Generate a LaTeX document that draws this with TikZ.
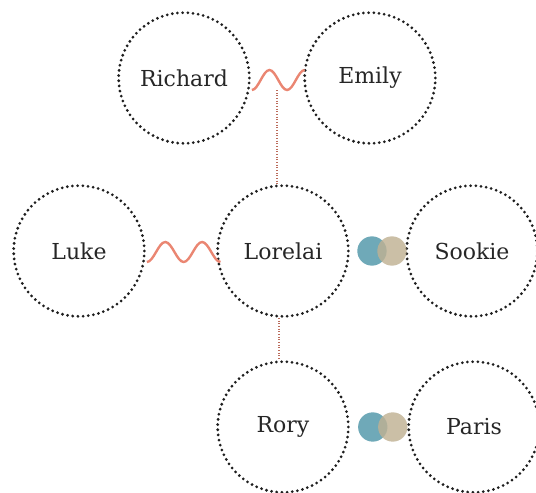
\documentclass[tikz,border=0pt]{standalone}
\usepackage{fontspec}
\setmainfont{DejaVu Serif}
\usetikzlibrary{calc}

\definecolor{dotgray}{HTML}{1E1E1E}
\definecolor{coral}{HTML}{EA8672}
\definecolor{bondteal}{HTML}{4F96A8}
\definecolor{bondsand}{HTML}{BFB193}

\tikzset{
  person/.style={circle,draw=dotgray,line width=2.3pt,line cap=round,
    dash pattern=on 0pt off 3.9pt,minimum size=98pt,inner sep=0pt,
    text=black!85,font=\fontsize{16.5}{19}\selectfont},
  wave/.style={draw=coral,line width=1.8pt},
  kin/.style={draw=coral!80!black,line width=1pt,dash pattern=on 0.8pt off 1.2pt},
  ring/.style={circle,inner sep=0pt,minimum size=22pt,fill opacity=0.82}
}

\begin{document}
\begin{tikzpicture}[x=0.75pt,y=-0.75pt]
  \useasboundingbox (0,0) rectangle (536,493);

  \node[person] (richard) at (184,78) {Richard};
  \node[person] (emily) at (370,78) {Emily};
  \node[person] (luke) at (79,251) {Luke};
  \node[person] (lorelai) at (283,251) {Lorelai};
  \node[person] (sookie) at (472,251) {Sookie};
  \node[person] (rory) at (283,427) {Rory};
  \node[person] (paris) at (474,427) {Paris};

  % married couples
  \draw[wave] ($(richard.east)+(1,12)$) cos ++(8.8,-10) sin ++(8.8,-10)
    cos ++(8.8,10) sin ++(8.8,10) cos ++(8.8,-10) sin ++(8.8,-10);
  \draw[wave] ($(luke.east)+(1,11)$) cos ++(9.2,-10) sin ++(9.2,-10)
    cos ++(9.2,10) sin ++(9.2,10) cos ++(9.2,-10) sin ++(9.2,-10)
    cos ++(9.2,10) sin ++(9.2,10);

  % parent to child
  \coordinate (marriage) at ($(richard.east)!0.5!(emily.west)+(0,12)$);
  \draw[kin] (marriage) -- (marriage |- lorelai.north);
  \draw[kin] ($(lorelai.south)+(-4,0)$) -- ($(rory.north)+(-4,0)$);

  % friendships
  \node[ring,fill=bondteal] (ftealA) at ($(lorelai.east)!0.4!(sookie.west)$) {};
  \node[ring,fill=bondsand] (fsandA) at ([xshift=15]ftealA.center) {};
  \node[ring,fill=bondteal] (ftealB) at ($(rory.east)!0.4!(paris.west)$) {};
  \node[ring,fill=bondsand] (fsandB) at ([xshift=15]ftealB.center) {};
\end{tikzpicture}
\end{document}
